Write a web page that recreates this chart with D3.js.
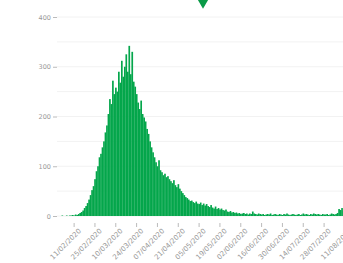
<!DOCTYPE html>
<html>
<head>
<meta charset="utf-8">
<script src="https://cdn.jsdelivr.net/npm/d3@7"></script>
<style>
  body { margin: 0; background: #fff; }
  svg { display: block; }
</style>
</head>
<body>
<svg width="343" height="263"></svg>
<script>
const svg = d3.select('svg');
const width = +svg.attr('width');
const height = +svg.attr('height');

// daily counts from 31/01/2020
const startDate = new Date(2020, 0, 31);
const dailyCounts = [
  0, 0, 0, 1, 0, 0, 1, 0, 1, 1,
  2, 1, 3, 2, 4, 6, 8, 11, 16, 20,
  26, 33, 42, 52, 60, 74, 90, 100, 118, 125,
  138, 150, 168, 182, 205, 235, 225, 272, 245, 258,
  250, 290, 268, 312, 280, 300, 325, 290, 342, 285,
  330, 270, 260, 245, 228, 215, 232, 205, 198, 190,
  175, 165, 150, 138, 128, 118, 108, 100, 112, 92,
  88, 82, 85, 78, 80, 74, 70, 66, 72, 62,
  58, 64, 55, 50, 46, 42, 38, 36, 33, 30,
  31, 28, 26, 29, 25, 24, 27, 22, 25, 21,
  24, 20, 18, 22, 17, 15, 19, 14, 16, 13,
  15, 12, 11, 13, 9, 8, 10, 7, 8, 6,
  7, 5, 6, 4, 5, 6, 4, 5, 3, 5,
  4, 9, 5, 4, 3, 5, 4, 3, 4, 2,
  3, 4, 3, 5, 2, 3, 4, 3, 2, 4,
  3, 2, 4, 3, 5, 3, 2, 3, 4, 3,
  2, 3, 4, 2, 3, 5, 3, 4, 3, 2,
  4, 3, 5, 4, 3, 4, 3, 2, 4, 3,
  3, 4, 2, 3, 5, 4, 3, 4, 6, 14,
  12, 16, 10, 8
];
const yTicks = [0, 100, 200, 300, 400];
const yGrid = [0, 50, 100, 150, 200, 250, 300, 350, 400];

const fmt = d3.timeFormat('%d/%m/%Y');
const data = dailyCounts.map((v, i) => ({
  date: fmt(d3.timeDay.offset(startDate, i)),
  value: v
}));
const xTicks = data.filter((d, i) => i >= 11 && (i - 11) % 14 === 0).map(d => d.date);

const left = 57;
const step = 1.488;
const xScale = d3.scaleBand()
  .domain(data.map(d => d.date))
  .range([left, left + data.length * step]);

const yScale = d3.scaleLinear()
  .domain([0, 400])
  .range([216, 17]);

// gridlines
svg.append('g')
  .selectAll('line')
  .data(yGrid)
  .join('line')
    .attr('x1', left)
    .attr('x2', width)
    .attr('y1', d => yScale(d))
    .attr('y2', d => yScale(d))
    .attr('stroke', '#f2f2f2')
    .attr('stroke-width', 1);

// bars
svg.append('g')
  .selectAll('rect')
  .data(data)
  .join('rect')
    .attr('x', d => xScale(d.date))
    .attr('width', xScale.bandwidth() + 0.2)
    .attr('y', d => yScale(d.value))
    .attr('height', d => yScale(0) - yScale(d.value))
    .attr('fill', '#04a64b');

// y axis
const yAxisG = svg.append('g')
  .attr('transform', `translate(${left},0)`)
  .call(d3.axisLeft(yScale).tickValues(yTicks).tickSize(4).tickPadding(2));
yAxisG.select('.domain').remove();
yAxisG.selectAll('line').attr('stroke', '#bbb');
yAxisG.selectAll('text')
  .attr('fill', '#999')
  .attr('font-size', 6.5)
  .attr('font-family', 'DejaVu Sans, sans-serif');

// x axis
const xAxisG = svg.append('g')
  .attr('transform', 'translate(0,223)')
  .call(d3.axisBottom(xScale).tickValues(xTicks).tickSize(4).tickPadding(3));
xAxisG.select('.domain').remove();
xAxisG.selectAll('line').attr('stroke', '#bbb');
xAxisG.selectAll('text')
  .attr('fill', '#999')
  .attr('font-size', 7)
  .attr('font-family', 'DejaVu Sans, sans-serif')
  .attr('text-anchor', 'end')
  .attr('dx', '-0.1em')
  .attr('dy', '0.6em')
  .attr('transform', 'rotate(-45)');

// marker at top
svg.append('path')
  .attr('d', d3.symbol(d3.symbolTriangle, 60)())
  .attr('transform', 'translate(203,2) rotate(180)')
  .attr('fill', '#0a9a47');
</script>
</body>
</html>
